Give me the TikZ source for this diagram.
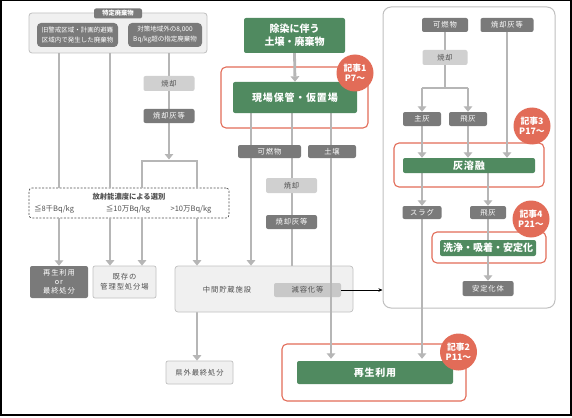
\documentclass[tikz,border=0pt]{standalone}
\usepackage{fontspec}
\setmainfont{Noto Sans CJK JP}
\usetikzlibrary{arrows.meta}
\pgfdeclarelayer{back}\pgfdeclarelayer{bg}\pgfsetlayers{back,bg,main}
\definecolor{grn}{RGB}{80,138,96}
\definecolor{coral}{RGB}{226,108,88}
\definecolor{dkg}{RGB}{122,122,122}
\definecolor{ltg}{RGB}{208,208,208}
\definecolor{txg}{RGB}{80,80,80}
\definecolor{lng}{RGB}{182,182,182}
\definecolor{pale}{RGB}{240,240,240}
\definecolor{bord}{RGB}{192,192,192}
\newcommand{\smallf}{\fontsize{7.3}{9}\selectfont\addfontfeatures{LetterSpace=12}}
\newcommand{\greenf}{\fontsize{10}{12.5}\selectfont\bfseries\addfontfeatures{LetterSpace=8}}
\begin{document}
\begin{tikzpicture}[x=1pt,y=-1pt,
  bx/.style={inner sep=0pt, rounded corners=2pt, align=center, font=\smallf},
  dk/.style={bx, fill=dkg, text=white},
  lt/.style={bx, fill=ltg, text=txg},
  wb/.style={bx, fill=pale, draw=bord, line width=0.7pt, text=txg},
  gb/.style={inner sep=0pt, rounded corners=2pt, fill=grn, text=white, align=center, font=\greenf},
  rb/.style={draw=coral, line width=1.1pt, rounded corners=5pt, inner sep=0pt},
  badge/.style={circle, fill=coral, text=white, minimum size=37pt, inner sep=0pt, align=center, font=\fontsize{8.8}{10}\selectfont\bfseries},
  ln/.style={draw=lng, line width=2.8pt},
  ar/.style={ln, -{Triangle[length=5.5pt,width=8.5pt]}},
  lbl/.style={inner sep=0pt, text=txg, font=\smallf}
]
\useasboundingbox (0,0) rectangle (572,417);
\draw[line width=1.5pt] (0.75,0.75) rectangle (571,415.2);

% column coordinates
\coordinate (cA) at (59,0);
\coordinate (cB) at (110,0);
\coordinate (cC) at (169,0);
\coordinate (cBL) at (142,161);
\coordinate (cBR) at (197,161);
\coordinate (cBM) at (169,161);
\coordinate (cK) at (197,0);
\coordinate (cM1) at (251,0);
\coordinate (cM2) at (292,0);
\coordinate (cM3) at (331,0);
\coordinate (cR1) at (422,0);
\coordinate (cR2) at (468,0);
\coordinate (cR3) at (507,0);
\coordinate (cR4) at (488,0);
\coordinate (cRM) at (445,88);
\coordinate (cRL) at (422,88);
\coordinate (cRR) at (468,88);

% background containers
\begin{pgfonlayer}{back}
  \node[draw=bord, fill=pale, line width=0.8pt, rounded corners=3pt, minimum width=178pt, minimum height=40pt, inner sep=0pt] (tok) at (118,33) {};
  \node[draw=bord, fill=white, line width=1pt, rounded corners=8pt, minimum width=172pt, minimum height=301pt, inner sep=0pt] (rc) at (469,157.5) {};
  \node[draw=txg, dash pattern=on 2pt off 1.5pt, line width=0.7pt, rounded corners=3pt, minimum width=200pt, minimum height=30pt, inner sep=0pt] (dash) at (129,203) {};
  \node[rb, minimum width=147pt, minimum height=61pt] (red1) at (294.5,97.5) {};
  \node[rb, minimum width=184pt, minimum height=57pt] (red2) at (374,372.5) {};
  \node[rb, minimum width=150pt, minimum height=44pt] (red3) at (469,165) {};
  \node[rb, minimum width=114pt, minimum height=31pt] (red4) at (489,247.5) {};
\end{pgfonlayer}

% left column nodes
\node[dk, minimum width=48pt, minimum height=10pt, font=\fontsize{6.3}{7}\selectfont\bfseries] (tokt) at (118,13.5) {特定廃棄物};
\node[dk, rounded corners=4pt, minimum width=81pt, minimum height=24pt, font=\fontsize{6.5}{10}\selectfont] (boxA) at (77.5,35) {旧警戒区域・計画的避難\\区域内で発生した廃棄物};
\node[dk, rounded corners=4pt, minimum width=74pt, minimum height=24pt, font=\fontsize{6.5}{10}\selectfont] (boxB) at (165,35) {対策地域外の8,000\\Bq/kg超の指定廃棄物};
\node[lt, minimum width=51pt, minimum height=15pt] (shoL) at (169,83.5) {焼却};
\node[dk, minimum width=51pt, minimum height=14pt] (haiL) at (169,116) {焼却灰等};
\node[lbl, font=\fontsize{7.3}{8}\selectfont\bfseries] (dtitle) at (129,197) {放射能濃度による選別};
\node[lbl, font=\fontsize{7.5}{8}\selectfont] (d1) at (54,209.5) {≦8千Bq/kg};
\node[lbl, font=\fontsize{7.5}{8}\selectfont] (d2) at (128,209.5) {≦10万Bq/kg};
\node[lbl, font=\fontsize{7.5}{8}\selectfont] (d3) at (191,209.5) {>10万Bq/kg};
\node[dk, minimum width=58pt, minimum height=32pt, font=\fontsize{7.3}{9}\selectfont\addfontfeatures{LetterSpace=12}] (saiA) at (59,282) {再生利用\\or\\最終処分};
\node[wb, minimum width=63pt, minimum height=32pt, font=\fontsize{7.3}{10}\selectfont\addfontfeatures{LetterSpace=12}] (kizon) at (124.5,282) {既存の\\管理型処分場};
\node[wb, rounded corners=3pt, minimum width=178pt, minimum height=46pt] (chukan) at (264,289) {};
\node[lbl] (chukant) at (227,290) {中間貯蔵施設};
\node[lt, fill={rgb,255:red,200;green,200;blue,200}, minimum width=67pt, minimum height=14pt] (genyo) at (307.5,290) {減容化等};
\node[wb, minimum width=67pt, minimum height=23pt] (kengai) at (199.5,372.5) {県外最終処分};

% middle column nodes
\node[gb, minimum width=101pt, minimum height=35pt, font=\fontsize{10}{13}\selectfont\bfseries] (josen) at (294.5,35.5) {除染に伴う\\土壌・廃棄物};
\node[gb, minimum width=124pt, minimum height=31pt] (genba) at (295,97.5) {現場保管・仮置場};
\node[dk, minimum width=63pt, minimum height=13pt] (kanen) at (269.5,151.5) {可燃物};
\node[dk, minimum width=48pt, minimum height=13pt] (dojo) at (332,151.5) {土壌};
\node[lt, minimum width=51pt, minimum height=15pt] (shoM) at (291.5,185.5) {焼却};
\node[dk, minimum width=51pt, minimum height=14pt] (haiM) at (291.5,222) {焼却灰等};
\node[gb, minimum width=156pt, minimum height=23pt] (sai) at (375,372.5) {再生利用};

% right column nodes
\node[dk, minimum width=46pt, minimum height=14pt] (kanenR) at (445,25) {可燃物};
\node[dk, minimum width=53pt, minimum height=14pt] (haiR) at (507,25) {焼却灰等};
\node[lt, minimum width=45pt, minimum height=15pt] (shoR) at (445,57.5) {焼却};
\node[dk, minimum width=38pt, minimum height=14pt] (shuhai) at (422,119) {主灰};
\node[dk, minimum width=38pt, minimum height=14pt] (hihai) at (468,119) {飛灰};
\node[gb, minimum width=132pt, minimum height=15pt] (yoyu) at (469,165.5) {灰溶融};
\node[dk, minimum width=39pt, minimum height=13pt] (slag) at (422,212.5) {スラグ};
\node[dk, minimum width=36pt, minimum height=13pt] (hihai2) at (488,212.5) {飛灰};
\node[gb, minimum width=96pt, minimum height=16pt, font=\fontsize{10}{12}\selectfont\bfseries] (senjo) at (488,248) {洗浄・吸着・安定化};
\node[dk, minimum width=51pt, minimum height=15pt] (antei) at (488,288.5) {安定化体};

% badges
\node[badge] (b1) at (355,73) {記事1\\P7〜};
\node[badge] (b2) at (458.5,352) {記事2\\P11〜};
\node[badge] (b3) at (532,126) {記事3\\P17〜};
\node[badge] (b4) at (531,219) {記事4\\P21〜};

% connectors behind nodes
\begin{pgfonlayer}{bg}
  \draw[ln] (cA |- tok.south) -- (cA |- dash.north);
  \draw[ln] (cB |- tok.south) -- (cB |- dash.north);
  \draw[ar, shorten >=1.5pt] (cC |- tok.south) -- (cBM);
  \draw[ln] (cBL |- dash.north) -- (cBL) -- (cBR) -- (cBR |- dash.north);
  \draw[ar] (cA |- dash.south) -- (saiA.north);
  \draw[ar] (cB |- dash.south) -- (cB |- kizon.north);
  \draw[ar] (cBL |- dash.south) -- (cBL |- kizon.north);
  \draw[ar] (cK |- dash.south) -- (cK |- chukan.north);
  \draw[ar] (cK |- chukan.south) -- (cK |- kengai.north);
  \draw[ar] (josen.south) -- (genba.north);
  \draw[ar] (cM1 |- genba.south) -- (cM1 |- chukan.north);
  \draw[ar] (cM2 |- genba.south) -- (cM2 |- genyo.north);
  \draw[ln] (cM3 |- genba.south) -- (cM3 |- dojo.north);
  \draw[ln] (kanenR.south) -- (cRM);
  \draw[ln] (cRL) -- (cRR);
  \draw[ar] (cRL) -- (shuhai.north);
  \draw[ar] (cRR) -- (hihai.north);
  \draw[ar] (shuhai.south) -- (cR1 |- yoyu.north);
  \draw[ar] (hihai.south) -- (cR2 |- yoyu.north);
  \draw[ar] (haiR.south) -- (haiR.south |- yoyu.north);
  \draw[ar] (cR1 |- yoyu.south) -- (slag.north);
  \draw[ar] (cR4 |- yoyu.south) -- (hihai2.north);
  \draw[ar] (hihai2.south) -- (antei.north);
  \draw[ar, shorten >=2pt] (slag.south) -- (cR1 |- sai.north);
\end{pgfonlayer}

% connectors over nodes
\draw[ar, shorten >=2pt] (cM3 |- dojo.south) -- (cM3 |- sai.north);
\draw[-{Stealth[length=4pt,width=3.5pt]}, line width=0.6pt] (genyo.east) -- (genyo.east -| rc.west);
\end{tikzpicture}
\end{document}
